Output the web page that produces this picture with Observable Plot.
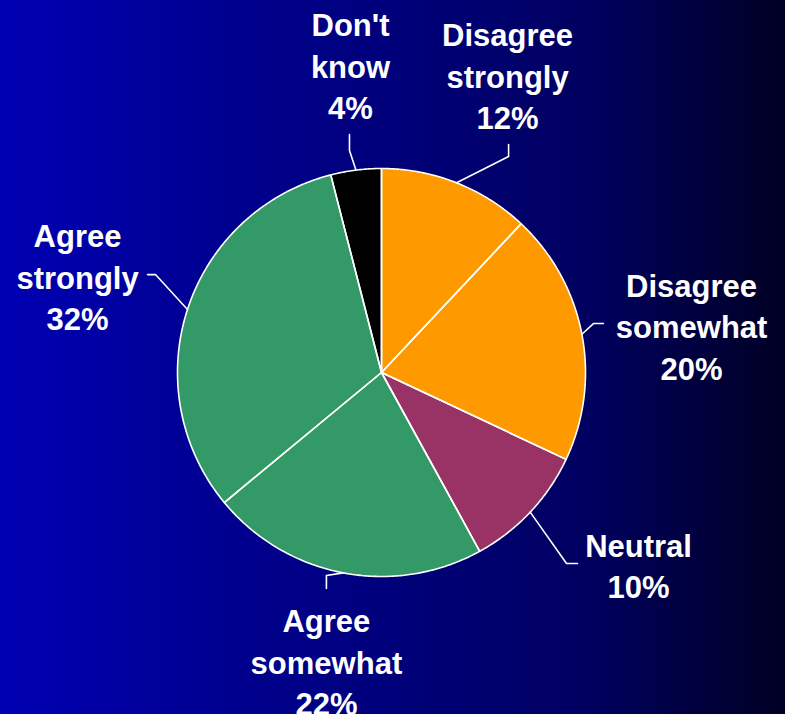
<!DOCTYPE html>
<html>
<head>
<meta charset="utf-8">
<script src="https://cdn.jsdelivr.net/npm/d3@7"></script>
<script src="https://cdn.jsdelivr.net/npm/@observablehq/plot@0.6"></script>
<style>
  html, body { margin: 0; padding: 0; overflow: hidden; }
  body { width: 785px; height: 714px; }
</style>
</head>
<body>
<div id="chart"></div>
<script>
// ---- data ----
const categories = ["Disagree strongly", "Disagree somewhat", "Neutral", "Agree somewhat", "Agree strongly", "Don't know"];
const labelLines = ["Disagree\nstrongly", "Disagree\nsomewhat", "Neutral", "Agree\nsomewhat", "Agree\nstrongly", "Don't\nknow"];
const values = [12, 20, 10, 22, 32, 4];
const sliceColors = ["#FF9900", "#FF9900", "#993366", "#339966", "#339966", "#000000"];

// ---- layout (in pie-radius units, y up) ----
const leaderElbow = [[0.623, 1.059], [1.039, 0.240], [0.907, -0.936], [-0.270, -0.995], [-1.108, 0.480], [-0.157, 1.088]];
const leaderEnd   = [[0.623, 1.118], [1.088, 0.240], [0.961, -0.936], [-0.270, -1.059], [-1.147, 0.480], [-0.157, 1.167]];
const labelAt     = [[0.618, 1.462], [1.520, 0.232], [1.260, -0.939], [-0.270, -1.412], [-1.490, 0.475], [-0.152, 1.510]];

const W = 785, H = 714, cx = 381, cy = 372, R = 204;

const arcs = d3.pie().sort(null).value(d => d)(values);

// slice polygons
const slices = [];
arcs.forEach((a, i) => {
  const n = Math.max(2, Math.ceil((a.endAngle - a.startAngle) / (Math.PI / 360)));
  slices.push({cat: categories[i], x: 0, y: 0});
  for (let k = 0; k <= n; k++) {
    const t = a.startAngle + (a.endAngle - a.startAngle) * k / n;
    slices.push({cat: categories[i], x: Math.sin(t), y: Math.cos(t)});
  }
  slices.push({cat: categories[i], x: 0, y: 0});
});

// leader lines
const leaders = [];
arcs.forEach((a, i) => {
  const m = (a.startAngle + a.endAngle) / 2;
  leaders.push({cat: categories[i], x: Math.sin(m), y: Math.cos(m)});
  leaders.push({cat: categories[i], x: leaderElbow[i][0], y: leaderElbow[i][1]});
  leaders.push({cat: categories[i], x: leaderEnd[i][0], y: leaderEnd[i][1]});
});

const labels = categories.map((c, i) => ({
  cat: c,
  text: labelLines[i] + "\n" + values[i] + "%",
  x: labelAt[i][0],
  y: labelAt[i][1]
}));

const chart = Plot.plot({
  width: W,
  height: H,
  margin: 0,
  x: {domain: [-cx / R, (W - cx) / R], range: [0, W], axis: null},
  y: {domain: [-(H - cy) / R, cy / R], range: [H, 0], axis: null},
  color: {domain: categories, range: sliceColors},
  style: {
    background: "linear-gradient(to right, #0000B4 0%, #000094 25%, #000062 74%, #000024 100%)",
    fontFamily: "Arial, 'Liberation Sans', sans-serif",
    overflow: "visible"
  },
  marks: [
    Plot.line(slices, {x: "x", y: "y", z: "cat", fill: "cat", stroke: null, curve: "linear"}),
    Plot.line(slices, {x: "x", y: "y", z: "cat", fill: "none", stroke: "white", strokeWidth: 1.6, strokeLinejoin: "round"}),
    Plot.line(leaders, {x: "x", y: "y", z: "cat", stroke: "white", strokeWidth: 1.6}),
    Plot.text(labels, {
      x: "x", y: "y", text: "text",
      fill: "white", fontSize: 31, fontWeight: "bold",
      textAnchor: "middle", lineAnchor: "middle", lineHeight: 1.34
    })
  ]
});

document.getElementById("chart").appendChild(chart);
</script>
</body>
</html>
